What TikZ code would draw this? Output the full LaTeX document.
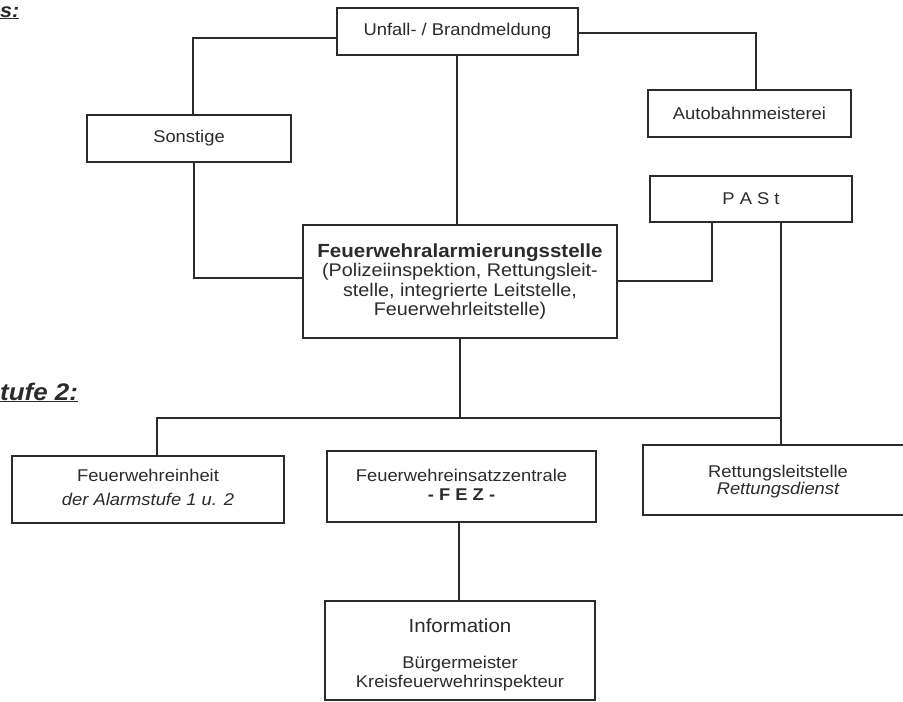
\documentclass[tikz,border=0pt]{standalone}
\usepackage{fontspec}
\setmainfont{Liberation Sans}[FakeStretch=1.08]
\definecolor{ink}{HTML}{2B2B2B}
\begin{document}
\begin{tikzpicture}[x=1pt,y=-1pt,
  box/.style={draw=ink, line width=1.3pt, fill=white, inner sep=0pt, text=ink, align=center,
    font=\fontsize{17}{20}\selectfont},
  conn/.style={draw=ink, line width=1.3pt},
  txt/.style={text=ink, inner sep=0pt, anchor=base, font=\fontsize{17}{20}\selectfont},
  lbl/.style={text=ink, inner sep=0pt, font=\fontsize{24}{26}\selectfont\bfseries\itshape},
]
\useasboundingbox (0,0) rectangle (903,702);

% boxes
\node[box, minimum width=241pt, minimum height=47pt] (unfall) at (457.5,31.5) {Unfall- / Brandmeldung};
\node[box, minimum width=204pt, minimum height=47pt] (sonst) at (189,138.5) {Sonstige};
\node[box, minimum width=203pt, minimum height=47pt] (auto) at (749.5,113.5) {Autobahnmeisterei};
\node[box, minimum width=202pt, minimum height=46pt] (past) at (751,199) {P A S t};
\node[box, minimum width=314pt, minimum height=113pt, font=\fontsize{18.3}{19.3}\selectfont] (fas) at (460,281.5)
  {{\fontsize{19}{19}\selectfont\bfseries Feuerwehralarmierungsstelle}\\(Polizeiinspektion, Rettungsleit-\\stelle, integrierte Leitstelle,\\Feuerwehrleitstelle)};
\node[box, minimum width=272pt, minimum height=67pt] (feh) at (148,489.5) {};
\node[box, minimum width=269pt, minimum height=71pt] (fez) at (461.5,486.5) {};
\node[box, minimum width=267pt, minimum height=70pt] (rett) at (776.5,480) {};
\node[box, minimum width=270pt, minimum height=99pt] (info) at (460,650.5) {};

% texts in boxes
\node[txt] (fehA) at (148,481) {Feuerwehreinheit};
\node[txt] (fehB) at (148,505) {\itshape der Alarmstufe 1 u. 2};
\node[txt] (fezA) at (461.5,481) {Feuerwehreinsatzzentrale};
\node[txt] (fezB) at (461.5,500) {\bfseries - F E Z -};
\node[txt] (rettA) at (778,477) {Rettungsleitstelle};
\node[txt] (rettB) at (778,494) {\itshape Rettungsdienst};
\node[txt, font=\fontsize{19}{20}\selectfont] (infoA) at (460,632) {Information};
\node[txt] (infoB) at (460,668) {Bürgermeister};
\node[txt] (infoC) at (460,687) {Kreisfeuerwehrinspekteur};

% side labels
\node[lbl, anchor=base west, font=\fontsize{20}{22}\selectfont\bfseries\itshape] (sTop) at (0,17) {\underline{s:}};
\node[lbl, anchor=base west] (stufe) at (0,400) {\underline{tufe 2:}};

% connectors
\coordinate (yA) at (0,38); \coordinate (xA) at (193,0);
\draw[conn] (unfall.west |- yA) -| (sonst.north -| xA);
\coordinate (xB) at (194,0); \coordinate (yB) at (0,278);
\draw[conn] (sonst.south -| xB) |- (fas.west |- yB);
\coordinate (xC) at (457,0);
\draw[conn] (unfall.south -| xC) -- (fas.north -| xC);
\coordinate (yD) at (0,33); \coordinate (xD) at (756,0);
\draw[conn] (unfall.east |- yD) -| (auto.north -| xD);
\coordinate (xE) at (712,0); \coordinate (yE) at (0,281);
\draw[conn] (past.south -| xE) |- (fas.east |- yE);
\coordinate (xF) at (781,0);
\draw[conn] (past.south -| xF) -- (rett.north -| xF);
\coordinate (busM) at (460,418); \coordinate (busR) at (781,418);
\draw[conn] (fas.south -| busM) -- (busM);
\coordinate (xG) at (157,0);
\draw[conn] (feh.north -| xG) |- (busR);
\coordinate (xH) at (459,0);
\draw[conn] (fez.south -| xH) -- (info.north -| xH);
\end{tikzpicture}
\end{document}
